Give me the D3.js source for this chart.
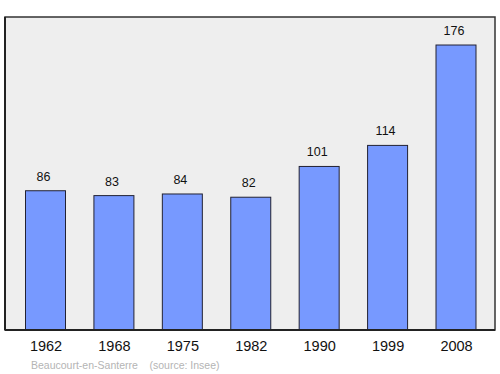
<!DOCTYPE html>
<html>
<head>
<meta charset="utf-8">
<script src="https://cdn.jsdelivr.net/npm/d3@7"></script>
<style>
  body { margin: 0; background: #fff; }
  svg { display: block; font-family: "Liberation Sans", Arial, sans-serif; }
</style>
</head>
<body>
<div id="chart"></div>
<script>
const years = ["1962", "1968", "1975", "1982", "1990", "1999", "2008"];
const population = [86, 83, 84, 82, 101, 114, 176];
const place = "Beaucourt-en-Santerre";
const source = "(source: Insee)";

const W = 500, H = 374;
const frame = { left: 5, top: 17, right: 495, bottom: 330 };

const svg = d3.select("#chart").append("svg")
    .attr("width", W)
    .attr("height", H);

// plot background
svg.append("rect")
    .attr("x", frame.left)
    .attr("y", frame.top)
    .attr("width", frame.right - frame.left)
    .attr("height", frame.bottom - frame.top)
    .attr("fill", "#eeeeee")
    .attr("stroke", "#333")
    .attr("stroke-width", 1.5);

const x = d3.scalePoint()
    .domain(years)
    .range([45.5, 456]);

const y = d3.scaleLinear()
    .domain([0, 193.3])
    .range([frame.bottom, frame.top]);

const barW = 40;
const data = years.map((yr, i) => ({ year: yr, value: population[i] }));

svg.selectAll(".bar")
    .data(data)
    .enter().append("rect")
    .attr("class", "bar")
    .attr("x", d => x(d.year) - barW / 2)
    .attr("y", d => y(d.value))
    .attr("width", barW)
    .attr("height", d => y(0) - y(d.value))
    .attr("fill", "#7799ff")
    .attr("stroke", "#223")
    .attr("stroke-width", 1);

// value labels
svg.selectAll(".val")
    .data(data)
    .enter().append("text")
    .attr("class", "val")
    .attr("x", d => x(d.year) - 2)
    .attr("y", d => y(d.value) - 10)
    .attr("text-anchor", "middle")
    .attr("font-size", 12.5)
    .attr("fill", "#111")
    .text(d => d.value);

// left and bottom edges drawn thicker
svg.append("line")
    .attr("x1", frame.left).attr("x2", frame.right)
    .attr("y1", frame.bottom).attr("y2", frame.bottom)
    .attr("stroke", "#222")
    .attr("stroke-width", 2);
svg.append("line")
    .attr("x1", frame.left).attr("x2", frame.left)
    .attr("y1", frame.top).attr("y2", frame.bottom)
    .attr("stroke", "#222")
    .attr("stroke-width", 2);

// year labels
const axis = d3.axisBottom(x).tickSize(0).tickPadding(11);
const ga = svg.append("g")
    .attr("transform", `translate(0,${frame.bottom})`)
    .call(axis);
ga.select(".domain").remove();
ga.selectAll("text")
    .attr("font-family", "Liberation Sans, Arial, sans-serif")
    .attr("font-size", 14.5)
    .attr("fill", "#111");

// footer
svg.append("text")
    .attr("x", 31)
    .attr("y", 369)
    .attr("font-family", "Liberation Sans, Arial, sans-serif")
    .attr("font-size", 10.5)
    .attr("fill", "#b4b4b4")
    .attr("xml:space", "preserve")
    .style("white-space", "pre")
    .text(place + "    " + source);
</script>
</body>
</html>
